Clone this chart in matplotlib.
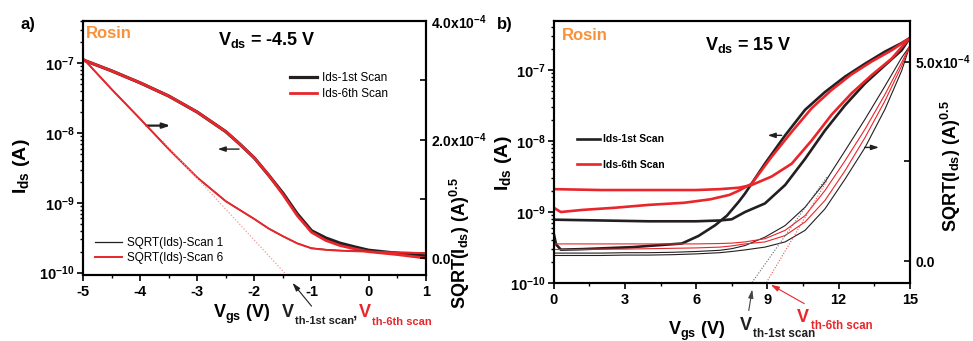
import matplotlib
matplotlib.use('Agg')
import matplotlib.pyplot as plt
from matplotlib.ticker import LogLocator, NullFormatter, MultipleLocator, FixedLocator

plt.rcParams['font.family'] = 'Liberation Sans'
plt.rcParams['mathtext.fontset'] = 'custom'
plt.rcParams['mathtext.rm'] = 'Liberation Sans'
plt.rcParams['mathtext.it'] = 'Liberation Sans:italic'
plt.rcParams['mathtext.bf'] = 'Liberation Sans:bold'
plt.rcParams['mathtext.default'] = 'bf'

RED = '#e8262b'
BLACK = '#231f20'
ORANGE = '#f7923a'

# ---- panel a) Vds = -4.5 V ----
a_vg = [-5, -4.5, -4.0, -3.5, -3.0, -2.5, -2.25, -2.0, -1.75, -1.5, -1.25, -1.0,
        -0.75, -0.5, -0.25, 0, 0.5, 1.0]
a_ids_scan1 = [1.12e-7, 7.8e-8, 5.25e-8, 3.4e-8, 2.0e-8, 1.05e-8, 6.9e-9, 4.4e-9, 2.5e-9, 1.38e-9,
               7.0e-10, 4.0e-10, 3.15e-10, 2.65e-10, 2.35e-10, 2.1e-10, 1.9e-10, 1.74e-10]
a_ids_scan6 = [1.12e-7, 7.8e-8, 5.25e-8, 3.4e-8, 2.0e-8, 1.05e-8, 6.9e-9, 4.4e-9, 2.5e-9, 1.32e-9,
               6.6e-10, 3.8e-10, 2.9e-10, 2.45e-10, 2.2e-10, 2.0e-10, 1.82e-10, 1.62e-10]
a_vg_sqrt = [-5, -4.5, -4.0, -3.5, -3.0, -2.5, -2.0, -1.75, -1.5, -1.25, -1.0, -0.75, -0.5, 0, 0.5, 1.0]
a_sqrt_scan1 = [3.37e-4, 2.85e-4, 2.35e-4, 1.84e-4, 1.36e-4, 0.96e-4, 0.66e-4, 0.50e-4, 0.37e-4,
                0.25e-4, 0.17e-4, 0.145e-4, 0.13e-4, 0.115e-4, 0.10e-4, 0.09e-4]
a_sqrt_scan6 = [3.37e-4, 2.85e-4, 2.35e-4, 1.84e-4, 1.36e-4, 0.96e-4, 0.66e-4, 0.50e-4, 0.37e-4,
                0.25e-4, 0.165e-4, 0.14e-4, 0.125e-4, 0.11e-4, 0.095e-4, 0.085e-4]
a_fit_vg = [-3.6, -1.43]
a_fit_sqrt = [1.97e-4, -0.29e-4]

# ---- panel b) Vds = 15 V ----
b_vg_s1_fwd = [0, 0.1, 0.3, 1.2, 3.3, 5.4, 6.1, 6.8, 7.3, 7.8, 8.06, 8.90, 9.75, 10.59,
               11.43, 12.28, 13.12, 13.96, 14.66, 15]
b_ids_s1_fwd = [5.0e-10, 3.5e-10, 2.95e-10, 3.0e-10, 3.2e-10, 3.6e-10, 4.6e-10, 6.5e-10, 8.9e-10,
                1.4e-9, 1.82e-9, 4.8e-9, 1.2e-8, 2.75e-8, 4.9e-8, 8.1e-8, 1.23e-7, 1.82e-7,
                2.4e-7, 2.82e-7]
b_vg_s1_rev = [0, 2, 4, 6, 7, 7.5, 8.06, 8.90, 9.75, 10.59, 11.43, 12.28, 13.12, 13.96, 14.66, 15]
b_ids_s1_rev = [7.8e-10, 7.6e-10, 7.4e-10, 7.4e-10, 7.6e-10, 7.9e-10, 1.0e-9, 1.32e-9, 2.4e-9,
                5.6e-9, 1.41e-8, 3.2e-8, 6.5e-8, 1.17e-7, 1.9e-7, 2.82e-7]
b_vg_s6_fwd = [0, 0.3, 1.2, 2.6, 4.0, 5.5, 6.6, 7.4, 7.8, 8.34, 9.18, 10.03, 10.87, 11.71,
               12.55, 13.40, 14.24, 15]
b_ids_s6_fwd = [1.15e-9, 1.0e-9, 1.07e-9, 1.15e-9, 1.26e-9, 1.35e-9, 1.51e-9, 1.74e-9, 2.0e-9,
                2.5e-9, 6.0e-9, 1.35e-8, 2.9e-8, 5.25e-8, 8.7e-8, 1.32e-7, 1.9e-7, 2.82e-7]
b_vg_s6_rev = [0, 2, 4, 6, 7, 7.8, 8.34, 9.18, 10.03, 10.87, 11.71, 12.55, 13.40, 14.24, 15]
b_ids_s6_rev = [2.1e-9, 2.04e-9, 2.04e-9, 2.04e-9, 2.1e-9, 2.2e-9, 2.4e-9, 3.16e-9, 4.8e-9,
                1.02e-8, 2.35e-8, 4.7e-8, 8.5e-8, 1.45e-7, 2.82e-7]

# sqrt(Ids) in units of 1e-4 A^0.5
b_vg_sqrt = [0, 1, 2, 3, 4, 5, 6, 7, 7.5, 8.06, 8.90, 9.75, 10.59, 11.43, 12.28,
             13.12, 13.96, 14.66, 15]
b_sqrt_s1_a = [0.20, 0.20, 0.20, 0.21, 0.21, 0.22, 0.24, 0.27, 0.31, 0.39, 0.60, 0.89, 1.35,
               1.98, 2.77, 3.56, 4.39, 5.10, 5.39]
b_sqrt_s6_a = [0.43, 0.43, 0.43, 0.43, 0.43, 0.43, 0.43, 0.44, 0.45, 0.48, 0.56, 0.77, 1.14,
               1.77, 2.52, 3.31, 4.18, 4.98, 5.39]
b_sqrt_s6_b = [0.29, 0.29, 0.30, 0.30, 0.31, 0.32, 0.33, 0.35, 0.38, 0.43, 0.48, 0.64, 0.98,
               1.52, 2.27, 3.10, 4.02, 4.89, 5.39]
b_sqrt_s1_b = [0.14, 0.14, 0.14, 0.15, 0.15, 0.16, 0.18, 0.21, 0.24, 0.28, 0.35, 0.48, 0.77,
               1.31, 2.06, 2.85, 3.81, 4.77, 5.39]
b_fit1_vg = [11.5, 8.34]
b_fit1_sqrt = [2.1, -0.55]
b_fit6_vg = [11.5, 8.95]
b_fit6_sqrt = [2.0, -0.55]

W, H = 973, 341
fig = plt.figure(figsize=(W / 100, H / 100), dpi=100)


def px_axes(x0, y0, x1, y1):
    return fig.add_axes([x0 / W, (H - y1) / H, (x1 - x0) / W, (y1 - y0) / H])


def style_axes(ax, ax2):
    for a in (ax, ax2):
        for s in a.spines.values():
            s.set_linewidth(1.5)
    ax.tick_params(axis='both', which='major', direction='out', length=4, width=1.2,
                   labelsize=10.5, pad=2, top=False, right=False)
    ax.tick_params(axis='both', which='minor', direction='out', length=2.2, width=1.0,
                   top=False, right=False)
    ax.tick_params(axis='x', pad=3)
    ax2.tick_params(axis='y', which='major', direction='in', length=4, width=1.2,
                    labelsize=10, pad=4)
    ax2.tick_params(axis='y', which='minor', direction='in', length=4, width=1.2)
    for lab in ax.get_xticklabels():
        lab.set_fontweight('bold')
    for lab in ax2.get_yticklabels():
        lab.set_fontweight('bold')


def log_ticks(ax, decades):
    ax.yaxis.set_major_locator(FixedLocator([10.0 ** d for d in decades]))
    ax.set_yticklabels([r'$10^{%d}$' % d for d in decades])
    ax.yaxis.set_minor_locator(LogLocator(base=10, subs=[2, 3, 4, 5, 6, 7, 8, 9], numticks=20))
    ax.yaxis.set_minor_formatter(NullFormatter())


# ================= panel a =================
axA = px_axes(83, 21, 425.7, 275)
axA2 = axA.twinx()
axA.set_yscale('log')
axA.set_xlim(-5, 1)
axA.set_ylim(10 ** -10.033, 10 ** -6.394)
axA.plot(a_vg, a_ids_scan1, color=BLACK, lw=2.3, label='Ids-1st Scan')
axA.plot(a_vg, a_ids_scan6, color=RED, lw=2.0, label='Ids-6th Scan')
axA2.plot(a_vg_sqrt, a_sqrt_scan1, color=BLACK, lw=0.9, label='SQRT(Ids)-Scan 1')
axA2.plot(a_vg_sqrt, a_sqrt_scan6, color=RED, lw=1.4, label='SQRT(Ids)-Scan 6')
axA2.plot(a_fit_vg, a_fit_sqrt, color='#f49a9a', lw=0.9, ls=(0, (1, 1.5)))
axA2.set_ylim(-0.284e-4, 4.0e-4)
axA.set_xticks([-5, -4, -3, -2, -1, 0, 1])
axA.set_xticklabels(['-5', '-4', '-3', '-2', '-1', '0', '1'])
axA.xaxis.set_minor_locator(MultipleLocator(0.5))
log_ticks(axA, [-10, -9, -8, -7])
axA2.set_yticks([0, 2e-4, 4e-4])
axA2.set_yticklabels(['0.0', r'$2.0x10^{-4}$', r'$4.0x10^{-4}$'])
axA2.yaxis.set_minor_locator(FixedLocator([1e-4, 3e-4]))
style_axes(axA, axA2)

axA.annotate('', xy=(-3.42, 1.28e-8), xytext=(-3.94, 1.28e-8),
             arrowprops=dict(arrowstyle='-|>,head_length=0.45,head_width=0.15', color=BLACK, lw=1.6))
axA.annotate('', xy=(-2.69, 5.9e-9), xytext=(-2.22, 5.9e-9),
             arrowprops=dict(arrowstyle='-|>,head_length=0.45,head_width=0.15', color=BLACK, lw=1.0))

axA.legend(loc='upper left', bbox_to_anchor=(0.604, 0.80), frameon=False, fontsize=8.5,
           handlelength=2.3, handletextpad=0.4, labelspacing=0.35, borderaxespad=0, borderpad=0)
axA2.legend(loc='upper left', bbox_to_anchor=(0.035, 0.15), frameon=False, fontsize=8.5,
            handlelength=2.3, handletextpad=0.4, labelspacing=0.3, borderaxespad=0, borderpad=0)

# ================= panel b =================
axB = px_axes(553.7, 21, 909.7, 283)
axB2 = axB.twinx()
axB.set_yscale('log')
axB.set_xlim(0, 15)
axB.set_ylim(1e-10, 10 ** -6.309)
axB.plot(b_vg_s1_fwd, b_ids_s1_fwd, color=BLACK, lw=1.9, label='Ids-1st Scan')
axB.plot(b_vg_s1_rev, b_ids_s1_rev, color=BLACK, lw=1.9)
axB.plot(b_vg_s6_fwd, b_ids_s6_fwd, color=RED, lw=1.9, label='Ids-6th Scan')
axB.plot(b_vg_s6_rev, b_ids_s6_rev, color=RED, lw=1.9)
sc = 1e-4
axB2.plot(b_vg_sqrt, [v * sc for v in b_sqrt_s1_a], color=BLACK, lw=0.8)
axB2.plot(b_vg_sqrt, [v * sc for v in b_sqrt_s1_b], color=BLACK, lw=0.8)
axB2.plot(b_vg_sqrt, [v * sc for v in b_sqrt_s6_a], color=RED, lw=0.8)
axB2.plot(b_vg_sqrt, [v * sc for v in b_sqrt_s6_b], color=RED, lw=0.8)
axB2.plot(b_fit1_vg, [v * sc for v in b_fit1_sqrt], color='#666666', lw=0.8, ls=(0, (1, 1.5)))
axB2.plot(b_fit6_vg, [v * sc for v in b_fit6_sqrt], color='#f05050', lw=0.8, ls=(0, (1, 1.5)))
axB2.set_ylim(-0.55e-4, 6.02e-4)
axB.set_xticks([0, 3, 6, 9, 12, 15])
axB.set_xticklabels(['0', '3', '6', '9', '12', '15'])
axB.xaxis.set_minor_locator(MultipleLocator(1.5))
log_ticks(axB, [-10, -9, -8, -7])
axB2.set_yticks([0, 5e-4])
axB2.set_yticklabels(['0.0', r'$5.0x10^{-4}$'])
axB2.yaxis.set_minor_locator(FixedLocator([2.5e-4]))
style_axes(axB, axB2)

axB.annotate('', xy=(8.90, 10 ** -7.92), xytext=(9.72, 10 ** -7.92),
             arrowprops=dict(arrowstyle='-|>,head_length=0.45,head_width=0.15', color=BLACK, lw=1.0))
axB.annotate('', xy=(13.82, 10 ** -8.09), xytext=(12.98, 10 ** -8.09),
             arrowprops=dict(arrowstyle='-|>,head_length=0.45,head_width=0.15', color=BLACK, lw=1.0))

axB.legend(loc='upper left', bbox_to_anchor=(0.065, 0.567), frameon=False,
           prop={'size': 7.5, 'weight': 'bold'}, handlelength=2.2, handletextpad=0.35,
           labelspacing=1.45, borderaxespad=0, borderpad=0)


# ================= texts =================
def ftxt(x, y, s, **kw):
    return fig.text(x / W, (H - y) / H, s, **kw)


ftxt(28, 24, 'a)', fontsize=12, fontweight='bold', ha='center', va='center')
ftxt(505, 24, 'b)', fontsize=12, fontweight='bold', ha='center', va='center')
ftxt(109, 34, 'Rosin', fontsize=12, fontweight='bold', color=ORANGE, ha='center', va='center')
ftxt(585, 35, 'Rosin', fontsize=12, fontweight='bold', color=ORANGE, ha='center', va='center')
ftxt(218, 44.5, r'$V_{ds}$ = -4.5 V', fontsize=13, fontweight='bold', ha='left', va='baseline')
ftxt(705, 50, r'$V_{ds}$ = 15 V', fontsize=13, fontweight='bold', ha='left', va='baseline')

ftxt(213, 318, r'$V_{gs}$ (V)', fontsize=13, fontweight='bold', ha='left', va='baseline')
ftxt(668, 335, r'$V_{gs}$ (V)', fontsize=13, fontweight='bold', ha='left', va='baseline')
ftxt(22, 166, r'$I_{ds}$ (A)', fontsize=14, fontweight='bold', rotation=90, ha='center', va='center')
ftxt(503, 163, r'$I_{ds}$ (A)', fontsize=14, fontweight='bold', rotation=90, ha='center', va='center')
ftxt(460, 243, r'$SQRT(I_{ds})\ (A)^{0.5}$', fontsize=13, rotation=90, ha='center', va='center')
ftxt(951, 166, r'$SQRT(I_{ds})\ (A)^{0.5}$', fontsize=13, rotation=90, ha='center', va='center')

# threshold voltage labels: big V with a small subscript
ftxt(282, 317, 'V', fontsize=13, fontweight='bold', color=BLACK, ha='left', va='baseline')
ftxt(295, 324, 'th-1st scan', fontsize=8, fontweight='bold', color=BLACK, ha='left', va='baseline')
ftxt(353, 318, ',', fontsize=11, fontweight='bold', color=BLACK, ha='left', va='baseline')
ftxt(359, 317, 'V', fontsize=13, fontweight='bold', color=RED, ha='left', va='baseline')
ftxt(372, 325, 'th-6th scan', fontsize=8, fontweight='bold', color=RED, ha='left', va='baseline')
ftxt(740, 330, 'V', fontsize=13, fontweight='bold', color=BLACK, ha='left', va='baseline')
ftxt(753, 337, 'th-1st scan', fontsize=8.5, fontweight='bold', color=BLACK, ha='left', va='baseline')
ftxt(797, 322, 'V', fontsize=13, fontweight='bold', color=RED, ha='left', va='baseline')
ftxt(811, 329, 'th-6th scan', fontsize=8.3, fontweight='bold', color=RED, ha='left', va='baseline')

for (x0, y0, x1, y1, col) in [(313.3, 308.3, 290.7, 280.7, BLACK),
                              (748.3, 313.3, 752.7, 286.7, '#444444'),
                              (806.7, 305.0, 768.3, 283.3, RED)]:
    fig.add_artist(plt.Annotation('', xy=(x1 / W, (H - y1) / H), xytext=(x0 / W, (H - y0) / H),
                                  xycoords='figure fraction', textcoords='figure fraction',
                                  arrowprops=dict(arrowstyle='-|>,head_length=0.5,head_width=0.15',
                                                  color=col, lw=0.8)))

fig.savefig('out.png', dpi=100)
